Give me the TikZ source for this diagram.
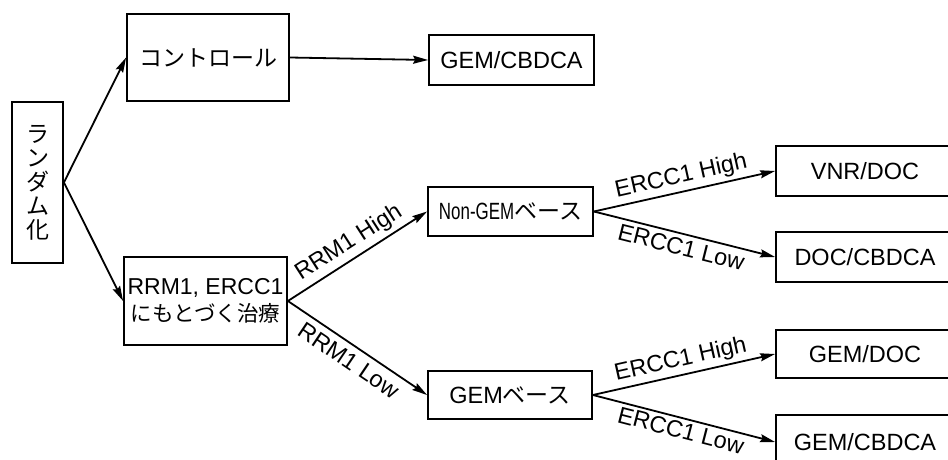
\documentclass[tikz,border=0pt]{standalone}
\usepackage{fontspec}
\setmainfont{Liberation Sans}
\newfontfamily\cjk{Noto Sans CJK JP}
\usetikzlibrary{arrows.meta}
\begin{document}
\begin{tikzpicture}[x=1pt,y=-1pt,
  box/.style={draw, line width=1.8pt, inner sep=0pt, align=center, font=\fontsize{23.5}{26}\selectfont},
  arr/.style={line width=1.8pt, -{Stealth[length=15pt,width=8pt,inset=2pt]}},
  lab/.style={font=\fontsize{23.5}{26}\selectfont, sloped, inner sep=2pt}]
\useasboundingbox (0,0) rectangle (948,460);
\clip (0,0) rectangle (948,460);
\node[box, minimum width=51pt, minimum height=161pt, font=\fontsize{23}{24}\cjk] (rand) at (37.5,182.5) {ラ\\ン\\ダ\\ム\\化};
\node[box, minimum width=162pt, minimum height=87pt, font=\fontsize{23}{26}\cjk] (ctrl) at (208,57.5) {コントロール};
\node[box, minimum width=165pt, minimum height=50pt] (gem1) at (511.5,60) {GEM/CBDCA};
\node[box, minimum width=163pt, minimum height=88pt, font=\fontsize{23}{27}\selectfont] (rrm) at (205.5,301) {RRM1, ERCC1\\{\fontsize{21.5}{27}\cjk にもとづく治療}};
\node[box, minimum width=165pt, minimum height=49pt] (nongem) at (510.5,211.5) {\scalebox{0.72}[1]{Non-GEM}{\fontsize{23}{26}\cjk ベース}};
\node[box, minimum width=164pt, minimum height=48pt] (gembase) at (510,395) {GEM{\fontsize{23}{26}\cjk ベース}};
\node[box, minimum width=178pt, minimum height=50pt] (vnr) at (865,171) {VNR/DOC};
\node[box, minimum width=178pt, minimum height=50pt] (doccb) at (865,257) {DOC/CBDCA};
\node[box, minimum width=178pt, minimum height=48pt] (gemdoc) at (865,354) {GEM/DOC};
\node[box, minimum width=178pt, minimum height=54pt] (gemcb) at (865,442) {GEM/CBDCA};
\draw[arr] (rand.east) -- (ctrl.west);
\draw[arr] (rand.east) -- (rrm.west);
\draw[arr] (ctrl.east) -- (gem1.west);
\draw[arr] (rrm.east) -- node[lab, above=2pt] {RRM1 High} (nongem.west);
\draw[arr] (rrm.east) -- node[lab, below=4pt] {RRM1 Low} (gembase.west);
\draw[arr] (nongem.east) -- node[lab, above=1pt] {ERCC1 High} (vnr.west);
\draw[arr] (nongem.east) -- node[lab, below=2pt] {ERCC1 Low} (doccb.west);
\draw[arr] (gembase.east) -- node[lab, above=1pt] {ERCC1 High} (gemdoc.west);
\draw[arr] (gembase.east) -- node[lab, below=1pt] {ERCC1 Low} (gemcb.west);
\end{tikzpicture}
\end{document}
